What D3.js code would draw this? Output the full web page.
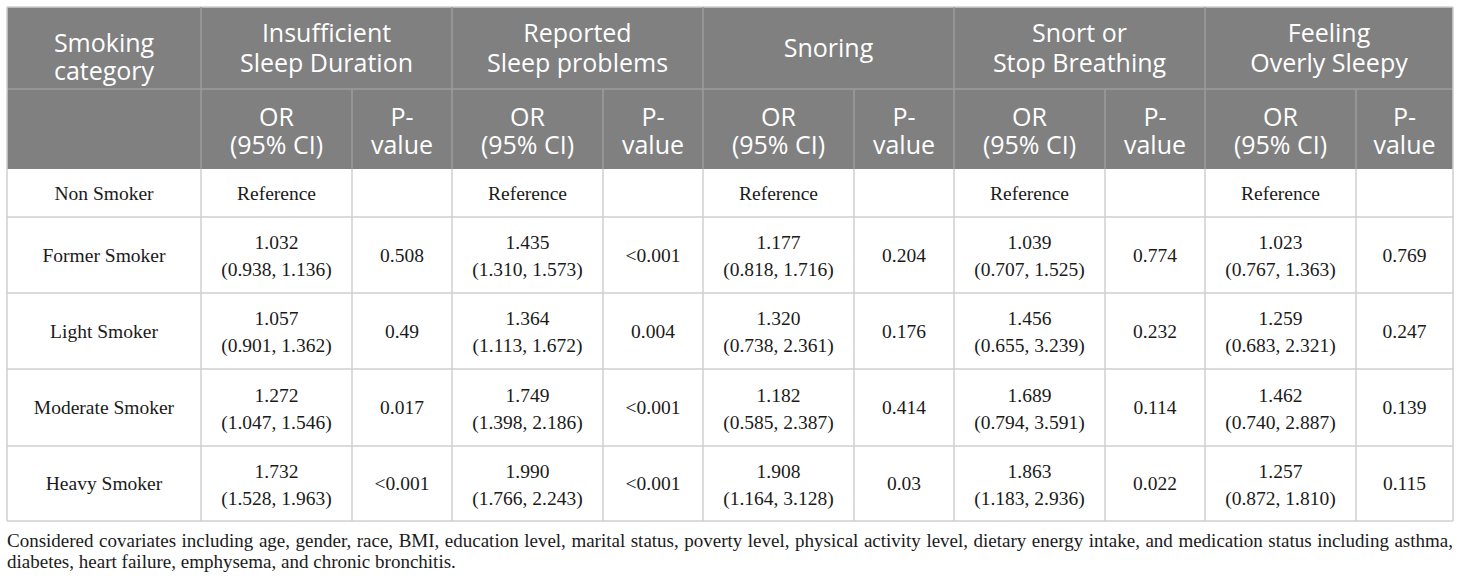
<!DOCTYPE html>
<html>
<head>
<meta charset="utf-8">
<script src="https://cdn.jsdelivr.net/npm/d3@7"></script>
<style>
  html, body { margin: 0; padding: 0; background: #fff; }
  svg { display: block; }
  .hdr { font-family: "Open Sans", sans-serif; font-size: 25px; fill: #fff; }
  .cell { font-family: "Liberation Serif", "Times New Roman", serif; font-size: 19.5px; fill: #1a1a1a; }
  .note { font-family: "Liberation Serif", "Times New Roman", serif; font-size: 19px; fill: #1a1a1a; }
</style>
</head>
<body>
<div id="table"></div>
<script>
// ---- data ----
var categories = ["Non Smoker", "Former Smoker", "Light Smoker", "Moderate Smoker", "Heavy Smoker"];
var outcomes = [["Insufficient", "Sleep Duration"], ["Reported", "Sleep problems"], ["Snoring"],
                ["Snort or", "Stop Breathing"], ["Feeling", "Overly Sleepy"]];
var subHeaders = [["OR", "(95% CI)"], ["P-", "value"]];

// rows: former, light, moderate, heavy (non smoker = reference)
var durationOR = [1.032, 1.057, 1.272, 1.732];
var durationCI = [[0.938, 1.136], [0.901, 1.362], [1.047, 1.546], [1.528, 1.963]];
var durationP  = ["0.508", "0.49", "0.017", "<0.001"];

var problemsOR = [1.435, 1.364, 1.749, 1.990];
var problemsCI = [[1.310, 1.573], [1.113, 1.672], [1.398, 2.186], [1.766, 2.243]];
var problemsP  = ["<0.001", "0.004", "<0.001", "<0.001"];

var snoringOR = [1.177, 1.320, 1.182, 1.908];
var snoringCI = [[0.818, 1.716], [0.738, 2.361], [0.585, 2.387], [1.164, 3.128]];
var snoringP  = ["0.204", "0.176", "0.414", "0.03"];

var snortOR = [1.039, 1.456, 1.689, 1.863];
var snortCI = [[0.707, 1.525], [0.655, 3.239], [0.794, 3.591], [1.183, 2.936]];
var snortP  = ["0.774", "0.232", "0.114", "0.022"];

var sleepyOR = [1.023, 1.259, 1.462, 1.257];
var sleepyCI = [[0.767, 1.363], [0.683, 2.321], [0.740, 2.887], [0.872, 1.810]];
var sleepyP  = ["0.769", "0.247", "0.139", "0.115"];

var footnote = [
  "Considered covariates including age, gender, race, BMI, education level, marital status, poverty level, physical activity level, dietary energy intake, and medication status including asthma,",
  "diabetes, heart failure, emphysema, and chronic bronchitis."
];

// ---- layout ----
var W = 1460, H = 583;
var tLeft = 7, tTop = 7, tRight = 1453;
var colWidths = [194, 151, 100, 151, 100, 151, 100, 151, 100, 151, 97];
var rowHeights = [82, 80, 48, 76, 76, 77, 75];

var colEdges = [tLeft].concat(Array.from(d3.cumsum(colWidths), function(d){ return tLeft + d; }));
var rowEdges = [tTop].concat(Array.from(d3.cumsum(rowHeights), function(d){ return tTop + d; }));

var x = d3.scaleOrdinal().domain(d3.range(colEdges.length)).range(colEdges);
var y = d3.scaleOrdinal().domain(d3.range(rowEdges.length)).range(rowEdges);

var svg = d3.select("#table").append("svg")
            .attr("width", W)
            .attr("height", H);

// header background
svg.append("rect")
   .attr("x", x(0)).attr("y", y(0))
   .attr("width", x(11) - x(0)).attr("height", y(2) - y(0))
   .attr("fill", "#808080");

// body grid
var body = svg.append("g").attr("stroke", "#cfcfcf").attr("stroke-width", 1.5);
d3.range(3, 8).forEach(function(r) {
  body.append("line").attr("x1", x(0)).attr("x2", x(11)).attr("y1", y(r)).attr("y2", y(r));
});
d3.range(0, 12).forEach(function(c) {
  body.append("line").attr("x1", x(c)).attr("x2", x(c)).attr("y1", y(2)).attr("y2", y(7));
});

// header grid
var hg = svg.append("g").attr("stroke", "#9c9c9c").attr("stroke-width", 1.5);
hg.append("line").attr("x1", x(0)).attr("x2", x(11)).attr("y1", y(1)).attr("y2", y(1));
hg.append("line").attr("x1", x(0)).attr("x2", x(11)).attr("y1", y(0)).attr("y2", y(0)).attr("stroke", "#cfcfcf");
[1, 3, 5, 7, 9].forEach(function(c) {
  hg.append("line").attr("x1", x(c)).attr("x2", x(c)).attr("y1", y(0)).attr("y2", y(2));
});
[2, 4, 6, 8, 10].forEach(function(c) {
  hg.append("line").attr("x1", x(c)).attr("x2", x(c)).attr("y1", y(1)).attr("y2", y(2));
});
[0, 11].forEach(function(c) {
  hg.append("line").attr("x1", x(c)).attr("x2", x(c)).attr("y1", y(0)).attr("y2", y(2)).attr("stroke", "#cfcfcf");
});

// multi-line centred text
function textBlock(g, cls, lines, cx, cy, lh, cap) {
  var t = g.append("text").attr("class", cls).attr("text-anchor", "middle");
  var first = cy - (lines.length - 1) * lh / 2 + cap / 2;
  lines.forEach(function(l, i) {
    t.append("tspan").attr("x", cx).attr("y", first + i * lh).text(l);
  });
  return t;
}

function mid(a, b) { return (a + b) / 2; }

// headers
var hdr = svg.append("g");
textBlock(hdr, "hdr", ["Smoking", "category"], mid(x(0), x(1)), mid(y(0), y(1)) + 9, 28, 18);
outcomes.forEach(function(o, i) {
  var c = 1 + i * 2;
  textBlock(hdr, "hdr", o, mid(x(c), x(c + 2)), mid(y(0), y(1)), 30, 18);
  subHeaders.forEach(function(s, j) {
    textBlock(hdr, "hdr", s, mid(x(c + j), x(c + j + 1)), mid(y(1), y(2)) + 2, 28, 18);
  });
});

// body cells
var fmt = d3.format(".3f");
var orCols = [durationOR, problemsOR, snoringOR, snortOR, sleepyOR];
var ciCols = [durationCI, problemsCI, snoringCI, snortCI, sleepyCI];
var pCols  = [durationP, problemsP, snoringP, snortP, sleepyP];

var cells = svg.append("g");
categories.forEach(function(cat, r) {
  var cy = mid(y(r + 2), y(r + 3));
  textBlock(cells, "cell", [cat], mid(x(0), x(1)), cy, 27, 13);
  orCols.forEach(function(col, i) {
    var c = 1 + i * 2;
    if (r === 0) {
      textBlock(cells, "cell", ["Reference"], mid(x(c), x(c + 1)), cy, 27, 13);
      return;
    }
    var ci = ciCols[i][r - 1];
    textBlock(cells, "cell", [fmt(col[r - 1]), "(" + fmt(ci[0]) + ", " + fmt(ci[1]) + ")"],
              mid(x(c), x(c + 1)), cy + 1, 27, 13);
    textBlock(cells, "cell", [pCols[i][r - 1]], mid(x(c + 1), x(c + 2)), cy, 27, 13);
  });
});

// footnote, first line justified
var note = svg.append("g");
var baseY = [547, 568];
footnote.forEach(function(line, li) {
  var words = line.split(" ");
  var t = note.append("text").attr("class", "note").attr("y", baseY[li]);
  var spans = words.map(function(w) { return t.append("tspan").text(w); });
  var widths = spans.map(function(s) { return s.node().getComputedTextLength(); });
  var space = 4.8;
  if (li === 0) {
    space = (tRight - tLeft - d3.sum(widths)) / (words.length - 1);
  }
  var cur = tLeft;
  spans.forEach(function(s, i) {
    s.attr("x", cur);
    cur += widths[i] + space;
  });
});
</script>
</body>
</html>
